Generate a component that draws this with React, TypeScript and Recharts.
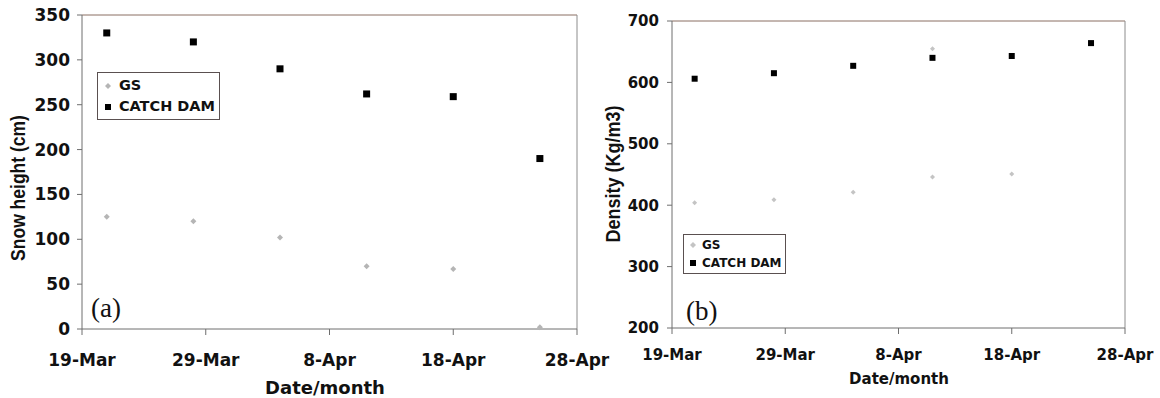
import { ScatterChart, Scatter, XAxis, YAxis, Legend, ReferenceLine } from 'recharts';

const TICK_DATES = ['19-Mar', '29-Mar', '8-Apr', '18-Apr', '28-Apr'];
const SAMPLE_DATES = ['21-Mar', '28-Mar', '4-Apr', '11-Apr', '18-Apr', '25-Apr'];
const GS_HEIGHT = [125, 120, 102, 70, 67, 2];
const DAM_HEIGHT = [330, 320, 290, 262, 259, 190];
const GS_DENSITY_DATES = ['21-Mar', '28-Mar', '4-Apr', '11-Apr', '18-Apr', '11-Apr'];
const GS_DENSITY = [404, 409, 421, 446, 451, 655];
const DAM_DENSITY = [606, 615, 627, 640, 643, 664];
const HEIGHT_TICKS = [0, 50, 100, 150, 200, 250, 300, 350];
const DENSITY_TICKS = [200, 300, 400, 500, 600, 700];

// days counted from 19-Mar
function dayOf(label: string): number {
  const [d, m] = label.split('-');
  const n = parseInt(d, 10);
  return m === 'Mar' ? n - 19 : n + 12;
}

const TICK_DAYS = TICK_DATES.map(dayOf);
const fmtDay = (v: number) => TICK_DATES[TICK_DAYS.indexOf(v)] ?? '';

const pts = (dates: string[], vals: number[]) => vals.map((y, i) => ({ x: dayOf(dates[i]), y }));

const AXIS = '#6e6e6e';
const BOLD = "'DejaVu Sans', sans-serif";
const ARIAL = "'Liberation Sans', Arial, sans-serif";

function diamond(r: number, fill: string) {
  return (p: any) => (
    <path d={`M${p.cx},${p.cy - r}L${p.cx + r},${p.cy}L${p.cx},${p.cy + r}L${p.cx - r},${p.cy}Z`} fill={fill} />
  );
}

function square(s: number) {
  return (p: any) => <rect x={p.cx - s / 2} y={p.cy - s / 2} width={s} height={s} fill="#000" />;
}

function LegendBox({ fontSize, gs, rowGap, pad }: { fontSize: number; gs: string; rowGap: number; pad: string }) {
  return (
    <div style={{ border: '1px solid #5a5050', background: '#fff', padding: pad, fontFamily: BOLD, fontWeight: 700, fontSize, lineHeight: `${rowGap}px`, color: '#111' }}>
      <div style={{ display: 'flex', alignItems: 'center' }}>
        <svg width={fontSize * 0.75} height={8} style={{ marginRight: 4 }}>
          <path d="M4,1L7,4L4,7L1,4Z" fill={gs} />
        </svg>
        GS
      </div>
      <div style={{ display: 'flex', alignItems: 'center' }}>
        <svg width={fontSize * 0.75} height={8} style={{ marginRight: 4 }}>
          <rect x={1} y={1} width={6} height={6} fill="#000" />
        </svg>
        CATCH DAM
      </div>
    </div>
  );
}

const text = (extra: any): any => ({ position: 'absolute', whiteSpace: 'nowrap', color: '#111', ...extra });

export default function App() {
  return (
    <div style={{ position: 'absolute', left: 0, top: 0, width: 1160, height: 398, background: '#fff' }}>
      <div style={{ position: 'absolute', left: 0, top: 0 }}>
        <ScatterChart width={625} height={398} margin={{ top: 15, right: 48, bottom: 0, left: 0 }}>
          <XAxis type="number" dataKey="x" domain={[0, 40]} ticks={TICK_DAYS} tickFormatter={fmtDay}
            height={69} stroke={AXIS} tickSize={6} tickMargin={19}
            tick={{ fill: '#111', fontFamily: BOLD, fontWeight: 700, fontSize: 17 }} />
          <YAxis type="number" dataKey="y" domain={[0, 350]} ticks={HEIGHT_TICKS} width={82}
            stroke={AXIS} tickSize={5} tickMargin={7}
            tick={{ fill: '#111', fontFamily: BOLD, fontWeight: 700, fontSize: 17 }} />
          <ReferenceLine y={350} stroke="#8a6e62" />
          <ReferenceLine x={40} stroke="#8c8c8c" />
          <Legend layout="vertical" align="center" verticalAlign="middle"
            wrapperStyle={{ left: 97, top: 72, width: 'auto', height: 'auto' }}
            content={() => <LegendBox fontSize={14.5} gs="#b5b5b5" rowGap={21} pad="2px 4px 2px 6px" />} />
          <Scatter name="GS" data={pts(SAMPLE_DATES, GS_HEIGHT)} shape={diamond(3, '#b5b5b5')} isAnimationActive={false} />
          <Scatter name="CATCH DAM" data={pts(SAMPLE_DATES, DAM_HEIGHT)} shape={square(7)} isAnimationActive={false} />
        </ScatterChart>
        <div style={text({ left: 18, top: 188, transform: 'translate(-50%,-50%) rotate(-90deg) scaleY(1.2)', fontFamily: ARIAL, fontWeight: 700, fontSize: 17.5 })}>
          Snow height (cm)
        </div>
        <div style={text({ left: 325, top: 387, transform: 'translate(-50%,-50%)', fontFamily: BOLD, fontWeight: 700, fontSize: 18 })}>
          Date/month
        </div>
        <div style={text({ left: 91, top: 308, transform: 'translateY(-50%)', fontFamily: "'Liberation Serif', serif", fontSize: 27 })}>
          (a)
        </div>
      </div>

      <div style={{ position: 'absolute', left: 590, top: 0 }}>
        <ScatterChart width={570} height={398} margin={{ top: 21, right: 35, bottom: 0, left: 0 }}>
          <XAxis type="number" dataKey="x" domain={[0, 40]} ticks={TICK_DAYS} tickFormatter={fmtDay}
            height={70} stroke={AXIS} tickSize={6} tickMargin={15}
            tick={{ fill: '#111', fontFamily: BOLD, fontWeight: 700, fontSize: 15 }} />
          <YAxis type="number" dataKey="y" domain={[200, 700]} ticks={DENSITY_TICKS} width={82}
            stroke={AXIS} tickSize={5} tickMargin={8}
            tick={{ fill: '#111', fontFamily: BOLD, fontWeight: 700, fontSize: 15 }} />
          <ReferenceLine y={700} stroke="#8a6e62" />
          <ReferenceLine x={40} stroke="#8c8c8c" />
          <Legend layout="vertical" align="center" verticalAlign="middle"
            wrapperStyle={{ left: 93, top: 234, width: 'auto', height: 'auto' }}
            content={() => <LegendBox fontSize={12} gs="#c4c4c4" rowGap={18} pad="1px 3px 1px 5px" />} />
          <Scatter name="GS" data={pts(GS_DENSITY_DATES, GS_DENSITY)} shape={diamond(2.5, '#c4c4c4')} isAnimationActive={false} />
          <Scatter name="CATCH DAM" data={pts(SAMPLE_DATES, DAM_DENSITY)} shape={square(6)} isAnimationActive={false} />
        </ScatterChart>
        <div style={text({ left: 24, top: 174, transform: 'translate(-50%,-50%) rotate(-90deg) scaleY(1.15)', fontFamily: ARIAL, fontWeight: 700, fontSize: 18 })}>
          Density (Kg/m3)
        </div>
        <div style={text({ left: 309, top: 379, transform: 'translate(-50%,-50%)', fontFamily: BOLD, fontWeight: 700, fontSize: 15 })}>
          Date/month
        </div>
        <div style={text({ left: 96, top: 311, transform: 'translateY(-50%)', fontFamily: "'Liberation Serif', serif", fontSize: 27 })}>
          (b)
        </div>
      </div>
    </div>
  );
}
